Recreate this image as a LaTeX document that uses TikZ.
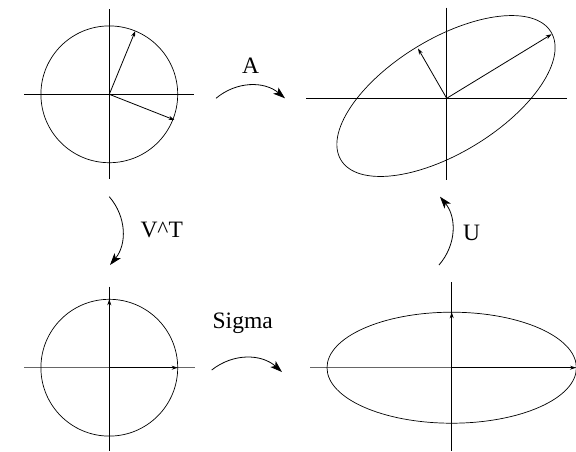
\documentclass[tikz,border=0pt]{standalone}
\usepackage{fontspec}
\setmainfont{Liberation Serif}
\usetikzlibrary{arrows.meta}
\begin{document}
\begin{tikzpicture}[x=1pt,y=-1pt,
  axis/.style={line width=0.9pt,black},
  gaxis/.style={line width=0.9pt,black!60},
  curve/.style={line width=0.7pt},
  vec/.style={line width=0.8pt,-{Stealth[length=6pt,width=4pt]}},
  trans/.style={line width=0.8pt,-{Stealth[length=12pt,width=8pt,inset=3pt]}},
  lab/.style={font=\fontsize{23.5}{27}\selectfont,inner sep=0pt}]
\useasboundingbox (0,0) rectangle (576,451);
% centres
\coordinate (tl) at (109.3,94.3);
\coordinate (tr) at (446.7,98.3);
\coordinate (tre) at (446,96);
\coordinate (bl) at (109.3,367.7);
\coordinate (br) at (451.7,367.7);
% top-left: unit circle
\draw[axis] (24,94.3) -- (194,94.3);
\draw[axis] (109.3,9) -- (109.3,179);
\draw[curve] (tl) circle[radius=68.4];
% top-right: rotated ellipse
\draw[axis] (306,98.3) -- (567,98.3);
\draw[axis] (446.7,7.7) -- (446.7,180);
\draw[curve,rotate around={31.4:(tre)}] (tre) ellipse[x radius=123, y radius=57];
% bottom-left
\draw[gaxis] (24,367.7) -- (195,367.7);
\draw[axis] (109.3,286.7) -- (109.3,451);
\draw[curve] (bl) circle[radius=68.4];
\coordinate (blx) at (177.7,367.7);
\coordinate (bly) at (109.3,299.3);
\draw[vec] (bl) -- (blx);
\draw[vec] (bl) -- (bly);
% bottom-right
\draw[gaxis] (310,367.7) -- (576,367.7);
\draw[axis] (451.7,282.3) -- (451.7,451);
\draw[curve] (br) ellipse[x radius=124.7, y radius=55.5];
\coordinate (brx) at (576,367.7);
\coordinate (bry) at (451.7,312.3);
\draw[vec] (br) -- (brx);
\draw[vec] (br) -- (bry);
% vectors top-left
\coordinate (tlu) at (135.3,31);
\coordinate (tlw) at (174.5,120);
\draw[vec] (tl) -- (tlu);
\draw[vec] (tl) -- (tlw);
% vectors top-right
\coordinate (tru) at (551.7,34.2);
\coordinate (trw) at (418,48.5);
\draw[vec] (tr) -- (tru);
\draw[vec] (tr) -- (trw);
% transformation arrows
\coordinate (a1) at (216,98.3);
\coordinate (a2) at (285,98.3);
\draw[trans] (a1) to[bend left=40] (a2);
\node[lab] (la) at (250.7,66) {A};
\coordinate (v1) at (109.3,196.7);
\coordinate (v2) at (110,265);
\draw[trans] (v1) to[bend left=40] (v2);
\node[lab] (lv) at (161.7,230) {V\textasciicircum T};
\coordinate (s1) at (211.7,370);
\coordinate (s2) at (282,372);
\draw[trans] (s1) to[bend left=40] (s2);
\node[lab] (ls) at (242.7,323.3) {Sigma};
\coordinate (u1) at (439,265);
\coordinate (u2) at (440,196.7);
\draw[trans] (u1) to[bend right=40] (u2);
\node[lab] (lu) at (471.7,233.3) {U};
\end{tikzpicture}
\end{document}
